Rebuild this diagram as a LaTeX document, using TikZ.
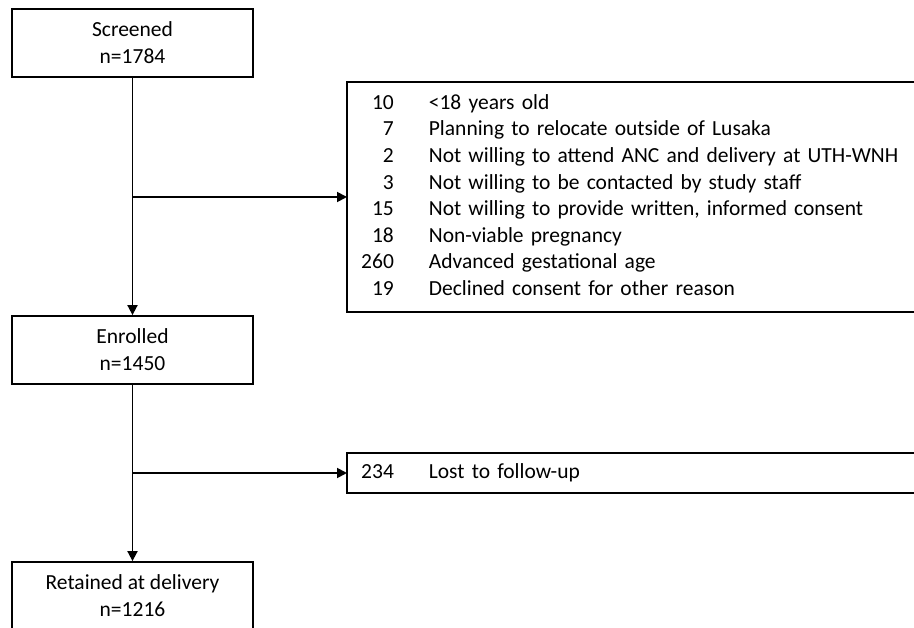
\documentclass[tikz,border=0pt]{standalone}
\usepackage{fontspec}
\setmainfont{Carlito}
\usetikzlibrary{arrows.meta}

\begin{document}
\begin{tikzpicture}[x=1pt,y=-1pt]
\tikzstyle{every node}+=[inner sep=0pt]
\tikzstyle{stage}=[draw,line width=1.8pt,minimum width=241pt,minimum height=68pt,align=center,font=\fontsize{21.5}{27}\selectfont]
\tikzstyle{reason}=[anchor=west,inner xsep=14pt,text width=640pt,align=left,font=\fontsize{21.5}{26.6}\selectfont]
\tikzstyle{frame}=[line width=1.8pt]
\tikzstyle{flow}=[line width=1.8pt,-{Triangle[length=10pt,width=10pt]}]
\useasboundingbox (0,0) rectangle (914,628);
\clip (0,0) rectangle (914,628);
% stages
\node [stage] (screened) at (132.5,43) {Screened\\n=1784};
\node [stage] (enrolled) at (132.5,350) {Enrolled\\n=1450};
\node [stage] (retained) at (132.5,596) {Retained at delivery\\n=1216};
% exclusions
\node [reason,minimum height=230pt] (excluded) at (347,197) {%
\begin{tabular}{@{}r@{\hspace{35pt}}l@{}}
10 & <18 years old\\
7 & Planning to relocate outside of Lusaka\\
2 & Not willing to attend ANC and delivery at UTH-WNH\\
3 & Not willing to be contacted by study staff\\
15 & Not willing to provide written, informed consent\\
18 & Non-viable pregnancy\\
260 & Advanced gestational age\\
19 & Declined consent for other reason
\end{tabular}};
\node [reason,minimum height=40pt] (lost) at (347,473) {%
\begin{tabular}{@{}r@{\hspace{35pt}}l@{}}
234 & Lost to follow-up
\end{tabular}};
% boxes run off the right edge
\draw [frame] (excluded.north east) -- (excluded.north west) -- (excluded.south west) -- (excluded.south east);
\draw [frame] (lost.north east) -- (lost.north west) -- (lost.south west) -- (lost.south east);
% arrows
\coordinate (split1) at (screened.south |- excluded.west);
\coordinate (split2) at (enrolled.south |- lost.west);
\draw [flow] (screened) -- (enrolled);
\draw [flow] (enrolled) -- (retained);
\draw [flow] (split1) -- (excluded.west);
\draw [flow] (split2) -- (lost.west);
\end{tikzpicture}
\end{document}
